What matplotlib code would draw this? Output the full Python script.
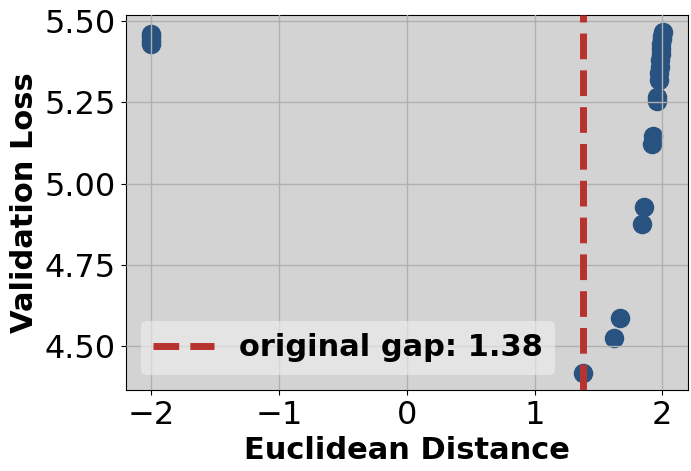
import matplotlib
matplotlib.use("Agg")
import matplotlib.pyplot as plt

# Euclidean distance vs. validation loss
distance = [-2.0, -2.0, -2.0, -2.0,
            1.38, 1.62, 1.67, 1.84, 1.86, 1.92, 1.93, 1.96, 1.962,
            1.975, 1.978, 1.981, 1.984, 1.987, 1.990, 1.993, 1.996, 1.999, 2.003]
val_loss = [5.43, 5.44, 5.45, 5.46,
            4.417, 4.525, 4.585, 4.875, 4.928, 5.121, 5.146, 5.255, 5.266,
            5.32, 5.34, 5.36, 5.38, 5.40, 5.415, 5.43, 5.445, 5.455, 5.466]
original_gap = 1.38

x_ticks = [-2, -1, 0, 1, 2]
y_ticks = [4.50, 4.75, 5.00, 5.25, 5.50]

fig = plt.figure(figsize=(6.91, 4.71), dpi=100)
ax = fig.add_axes([0.182, 0.172, 0.814, 0.796])
ax.set_facecolor("#d3d3d3")

ax.scatter(distance, val_loss, s=170, color="#285280", zorder=2)
ax.axvline(original_gap, color="#b83230", linestyle="--", linewidth=5,
           label=f"original gap: {original_gap:.2f}", zorder=3)

ax.grid(True, color="#b0b0b0", linewidth=1.0, zorder=4)
ax.set_axisbelow(False)

ax.set_xticks(x_ticks)
ax.set_yticks(y_ticks)
ax.set_yticklabels([f"{v:.2f}" for v in y_ticks])
ax.tick_params(labelsize=23)
ax.set_xlabel("Euclidean Distance", fontsize=22, fontweight="bold", labelpad=4)
ax.set_ylabel("Validation Loss", fontsize=22, fontweight="bold", labelpad=4)

leg = ax.legend(loc="lower left", prop={"size": 22, "weight": "bold"},
                framealpha=0.6, facecolor="#f0f0f0", edgecolor="none")

fig.savefig("out.png", dpi=100)
